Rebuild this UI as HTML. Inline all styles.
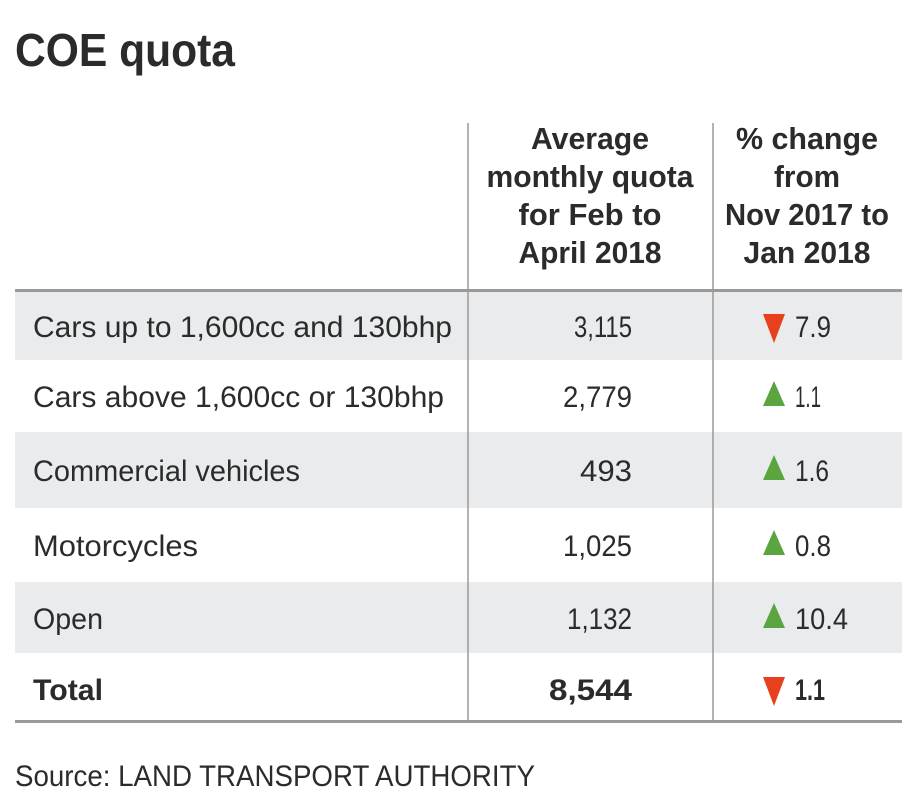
<!DOCTYPE html>
<html><head><meta charset="utf-8"><style>
html,body{margin:0;padding:0;background:#fff;}
svg{display:block;}
text{font-family:"Liberation Sans",sans-serif;fill:#2b2b2b;}
.b{font-weight:bold;}
</style></head><body>
<svg width="910" height="802" viewBox="0 0 910 802">
<text x="15" y="66" class="b" font-size="46" textLength="220" lengthAdjust="spacingAndGlyphs">COE quota</text>
<rect x="15" y="292" width="887" height="68" fill="#e9ebed"/>
<rect x="15" y="432" width="887" height="76" fill="#e9ebed"/>
<rect x="15" y="582" width="887" height="71" fill="#e9ebed"/>
<line x1="468" y1="123" x2="468" y2="722" stroke="#9a9a9a" stroke-width="1.5"/>
<line x1="713" y1="123" x2="713" y2="722" stroke="#9a9a9a" stroke-width="1.5"/>
<rect x="15" y="289" width="887" height="3" fill="#9a9a9a"/>
<rect x="15" y="720" width="887" height="3" fill="#9a9a9a"/>
<g font-size="31" text-anchor="middle">
<text x="590" y="149" class="b" textLength="118" lengthAdjust="spacingAndGlyphs">Average</text>
<text x="590" y="187" class="b" textLength="207" lengthAdjust="spacingAndGlyphs">monthly quota</text>
<text x="590" y="225" class="b" textLength="143" lengthAdjust="spacingAndGlyphs">for Feb to</text>
<text x="590" y="263" class="b" textLength="143" lengthAdjust="spacingAndGlyphs">April 2018</text>
<text x="807" y="149" class="b" textLength="142" lengthAdjust="spacingAndGlyphs">% change</text>
<text x="807" y="187" class="b" textLength="66" lengthAdjust="spacingAndGlyphs">from</text>
<text x="807" y="225" class="b" textLength="164" lengthAdjust="spacingAndGlyphs">Nov 2017 to</text>
<text x="807" y="263" class="b" textLength="127" lengthAdjust="spacingAndGlyphs">Jan 2018</text>
</g>
<g font-size="30">
<text x="33" y="337" textLength="419" lengthAdjust="spacingAndGlyphs">Cars up to 1,600cc and 130bhp</text>
<text x="33" y="407" textLength="411" lengthAdjust="spacingAndGlyphs">Cars above 1,600cc or 130bhp</text>
<text x="33" y="481" textLength="267" lengthAdjust="spacingAndGlyphs">Commercial vehicles</text>
<text x="33" y="556" textLength="165" lengthAdjust="spacingAndGlyphs">Motorcycles</text>
<text x="33" y="629" textLength="70" lengthAdjust="spacingAndGlyphs">Open</text>
<text x="33" y="700" class="b" textLength="70" lengthAdjust="spacingAndGlyphs">Total</text>
</g>
<g font-size="30">
<text x="574" y="337" textLength="58" lengthAdjust="spacingAndGlyphs">3,115</text>
<text x="563" y="407" textLength="69" lengthAdjust="spacingAndGlyphs">2,779</text>
<text x="580" y="481" textLength="52" lengthAdjust="spacingAndGlyphs">493</text>
<text x="563" y="556" textLength="69" lengthAdjust="spacingAndGlyphs">1,025</text>
<text x="567" y="629" textLength="65" lengthAdjust="spacingAndGlyphs">1,132</text>
<text x="549" y="700" class="b" textLength="83" lengthAdjust="spacingAndGlyphs">8,544</text>
</g>
<g font-size="30">
<text x="795" y="337" textLength="36" lengthAdjust="spacingAndGlyphs">7.9</text>
<text x="795" y="407" textLength="26" lengthAdjust="spacingAndGlyphs">1.1</text>
<text x="795" y="481" textLength="34" lengthAdjust="spacingAndGlyphs">1.6</text>
<text x="795" y="556" textLength="36" lengthAdjust="spacingAndGlyphs">0.8</text>
<text x="795" y="629" textLength="53" lengthAdjust="spacingAndGlyphs">10.4</text>
<text x="795" y="700" class="b" textLength="30" lengthAdjust="spacingAndGlyphs">1.1</text>
</g>
<g>
<polygon points="763,314 785,314 774,343" fill="#e8401c"/>
<polygon points="763,406 785,406 774,381" fill="#5aa53f"/>
<polygon points="763,480 785,480 774,455" fill="#5aa53f"/>
<polygon points="763,555 785,555 774,530" fill="#5aa53f"/>
<polygon points="763,628 785,628 774,603" fill="#5aa53f"/>
<polygon points="763,677 785,677 774,706" fill="#e8401c"/>
</g>
<text x="15" y="786" font-size="30" textLength="520" lengthAdjust="spacingAndGlyphs">Source: LAND TRANSPORT AUTHORITY</text>
</svg>
</body></html>
